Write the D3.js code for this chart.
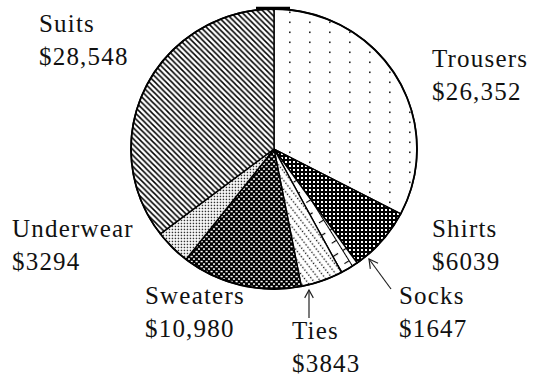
<!DOCTYPE html>
<html>
<head>
<meta charset="utf-8">
<script src="https://cdn.jsdelivr.net/npm/d3@7/dist/d3.min.js"></script>
<style>
  html, body { margin: 0; padding: 0; background: #fff; }
  svg { display: block; }
  .lbl { font-family: "Liberation Serif", "Times New Roman", serif; font-size: 25px; letter-spacing: 1.2px; fill: #111; }
</style>
</head>
<body>
<svg id="chart" width="533" height="379"></svg>
<script>
// Clothing sales by category (dollars), clockwise from 12 o'clock
const categories = ["Trousers", "Shirts", "Socks", "Ties", "Sweaters", "Underwear", "Suits"];
const sales = [26352, 6039, 1647, 3843, 10980, 3294, 28548];
const valueLabels = ["$26,352", "$6039", "$1647", "$3843", "$10,980", "$3294", "$28,548"];

const W = 533, H = 379;
const cx = 274, cy = 149, rx = 143, ry = 140;

const svg = d3.select("#chart");
const defs = svg.append("defs");

// ---- fill patterns (page coordinates, so the group offset is undone) ----
function pat(id, w, h, extra) {
  const p = defs.append("pattern")
    .attr("id", id)
    .attr("patternUnits", "userSpaceOnUse")
    .attr("width", w).attr("height", h)
    .attr("x", -cx).attr("y", -cy);
  if (extra) p.attr("patternTransform", extra);
  return p;
}

// Trousers: sparse dot grid
{
  const p = pat("p-trousers", 20, 10);
  p.append("rect").attr("width", 20).attr("height", 10).attr("fill", "#fff");
  p.append("rect").attr("x", 9).attr("y", 1.5).attr("width", 1.6).attr("height", 1.6).attr("fill", "#222");
}
// Shirts: black with white dots
{
  const p = pat("p-shirts", 4, 4);
  p.append("rect").attr("width", 4).attr("height", 4).attr("fill", "#000");
  p.append("rect").attr("x", 1).attr("y", 1).attr("width", 2).attr("height", 2).attr("fill", "#fff");
}
// Socks: open ladder / brick
{
  const p = pat("p-socks", 24, 12, "rotate(58)");
  p.append("rect").attr("width", 24).attr("height", 12).attr("fill", "#fff");
  p.append("path").attr("d", "M0,0.5H24M0.5,0V6M12.5,6V12")
    .attr("stroke", "#000").attr("stroke-width", 1.2).attr("fill", "none");
}
// Ties: rows of fine dots
{
  const p = pat("p-ties", 3.2, 5.5, "rotate(52)");
  p.append("rect").attr("width", 3.2).attr("height", 5.5).attr("fill", "#fff");
  p.append("rect").attr("x", 0.6).attr("y", 0.6).attr("width", 1.3).attr("height", 1.3).attr("fill", "#000");
}
// Sweaters: black with white diagonal dashes
{
  const p = pat("p-sweaters", 5, 5);
  p.append("rect").attr("width", 5).attr("height", 5).attr("fill", "#000");
  p.append("rect").attr("x", 0.5).attr("y", 0.8).attr("width", 2.2).attr("height", 1.5).attr("fill", "#fff");
  p.append("rect").attr("x", 3).attr("y", 3.3).attr("width", 2.2).attr("height", 1.5).attr("fill", "#fff");
}
// Underwear: fine stipple
{
  const p = pat("p-underwear", 3, 3);
  p.append("rect").attr("width", 3).attr("height", 3).attr("fill", "#fff");
  p.append("rect").attr("x", 0.7).attr("y", 0.7).attr("width", 1.5).attr("height", 1.5).attr("fill", "#333");
}
// Suits: back-slash hatching
{
  const s = 5.6;
  const p = pat("p-suits", s, s);
  p.append("rect").attr("width", s).attr("height", s).attr("fill", "#fff");
  p.append("path").attr("d", `M0,0L${s},${s}M-1,${s - 1}L1,${s + 1}M${s - 1},-1L${s + 1},1`)
    .attr("stroke", "#000").attr("stroke-width", 1.5).attr("fill", "none");
}

const fills = {
  Trousers: "url(#p-trousers)", Shirts: "url(#p-shirts)", Socks: "url(#p-socks)",
  Ties: "url(#p-ties)", Sweaters: "url(#p-sweaters)", Underwear: "url(#p-underwear)",
  Suits: "url(#p-suits)"
};

const data = categories.map((c, i) => ({ name: c, value: sales[i], label: valueLabels[i] }));
const pie = d3.pie().value(d => d.value).sort(null).startAngle(0).endAngle(2 * Math.PI);
const arcs = pie(data);

// elliptical sector path built from the pie angles (0 = 12 o'clock, clockwise)
function sector(a) {
  const p0 = [rx * Math.sin(a.startAngle), -ry * Math.cos(a.startAngle)];
  const p1 = [rx * Math.sin(a.endAngle), -ry * Math.cos(a.endAngle)];
  const large = (a.endAngle - a.startAngle) > Math.PI ? 1 : 0;
  return `M0,0L${p0[0]},${p0[1]}A${rx},${ry} 0 ${large} 1 ${p1[0]},${p1[1]}Z`;
}

const g = svg.append("g").attr("transform", `translate(${cx},${cy})`);
g.selectAll("path.slice")
  .data(arcs)
  .join("path")
  .attr("class", "slice")
  .attr("d", sector)
  .attr("fill", d => fills[d.data.name])
  .attr("stroke", "#000")
  .attr("stroke-width", 1.4)
  .attr("stroke-linejoin", "round");

// heavy rim and the short bar at the top of the pie
g.append("ellipse").attr("rx", rx).attr("ry", ry)
  .attr("fill", "none").attr("stroke", "#000").attr("stroke-width", 1.8);
g.append("line").attr("x1", -18).attr("x2", 16).attr("y1", -ry - 1).attr("y2", -ry - 1)
  .attr("stroke", "#000").attr("stroke-width", 2.4);

// ---- labels ----
const labelPos = {
  Suits:     { x: 39,  y: 32 },
  Trousers:  { x: 432, y: 67 },
  Underwear: { x: 12,  y: 237 },
  Shirts:    { x: 432, y: 237 },
  Sweaters:  { x: 145, y: 304 },
  Socks:     { x: 399, y: 304 },
  Ties:      { x: 292, y: 339 }
};
const lineGap = 33;

const lbl = svg.append("g");
data.forEach(d => {
  const p = labelPos[d.name];
  const t = lbl.append("text").attr("class", "lbl").attr("x", p.x).attr("y", p.y);
  t.append("tspan").attr("x", p.x).text(d.name);
  t.append("tspan").attr("x", p.x).attr("dy", lineGap).text(d.label);
});

// ---- pointer arrows for the thin slices ----
const line = d3.line();
function arrow(tail, head, wing) {
  const ang = Math.atan2(tail[1] - head[1], tail[0] - head[0]);
  const spread = 0.5;
  const w1 = [head[0] + wing * Math.cos(ang + spread), head[1] + wing * Math.sin(ang + spread)];
  const w2 = [head[0] + wing * Math.cos(ang - spread), head[1] + wing * Math.sin(ang - spread)];
  svg.append("path").attr("d", line([tail, head])).attr("stroke", "#222").attr("stroke-width", 1.2).attr("fill", "none");
  svg.append("path").attr("d", line([w1, head, w2])).attr("stroke", "#222").attr("stroke-width", 1.2).attr("fill", "none");
}
arrow([391, 289], [369, 259], 10);
arrow([309, 318], [309, 290], 9);
</script>
</body>
</html>
